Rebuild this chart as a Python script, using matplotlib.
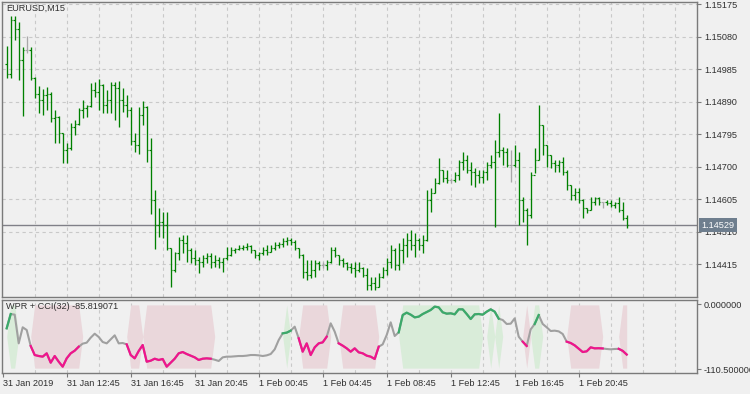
import matplotlib
matplotlib.use("Agg")
import matplotlib.pyplot as plt
import matplotlib.transforms as mtransforms
import numpy as np

plt.rcParams['font.family'] = ['Liberation Sans', 'DejaVu Sans']

symbol_title = "EURUSD,M15"
ind_title = "WPR + CCI(32) -85.819071"

# 15 minute bars, bar 0 = 31 Jan 2019 08:45
bars = np.arange(1, 157)

opens = [
    1.15000, 1.14970, 1.15128, 1.15102, 1.15011, 1.15041, 1.15041, 1.14959, 1.14912, 1.14894,
    1.14909, 1.14912, 1.14842, 1.14845, 1.14798, 1.14748, 1.14754, 1.14815, 1.14824, 1.14865,
    1.14871, 1.14877, 1.14924, 1.14918, 1.14938, 1.14880, 1.14894, 1.14938, 1.14929, 1.14894,
    1.14880, 1.14865, 1.14775, 1.14763, 1.14851, 1.14874, 1.14748, 1.14602, 1.14529, 1.14538,
    1.14529, 1.14462, 1.14397, 1.14447, 1.14485, 1.14476, 1.14456, 1.14433, 1.14427, 1.14421,
    1.14433, 1.14438, 1.14421, 1.14427, 1.14421, 1.14433, 1.14441, 1.14456, 1.14459, 1.14462,
    1.14465, 1.14468, 1.14456, 1.14441, 1.14447, 1.14456, 1.14450, 1.14462, 1.14471, 1.14473,
    1.14482, 1.14485, 1.14479, 1.14462, 1.14441, 1.14392, 1.14383, 1.14397, 1.14418, 1.14412,
    1.14412, 1.14421, 1.14456, 1.14441, 1.14427, 1.14418, 1.14406, 1.14403, 1.14398, 1.14403,
    1.14383, 1.14354, 1.14360, 1.14348, 1.14377, 1.14398, 1.14421, 1.14456, 1.14412, 1.14456,
    1.14471, 1.14485, 1.14471, 1.14485, 1.14471, 1.14485, 1.14602, 1.14623, 1.14652, 1.14690,
    1.14666, 1.14661, 1.14661, 1.14675, 1.14713, 1.14719, 1.14690, 1.14684, 1.14675, 1.14669,
    1.14684, 1.14704, 1.14713, 1.14742, 1.14748, 1.14742, 1.14704, 1.14704, 1.14719, 1.14602,
    1.14573, 1.14558, 1.14675, 1.14719, 1.14821, 1.14763, 1.14734, 1.14710, 1.14704, 1.14713,
    1.14684, 1.14646, 1.14617, 1.14625, 1.14602, 1.14579, 1.14573, 1.14596, 1.14608, 1.14596,
    1.14596, 1.14593, 1.14588, 1.14593, 1.14573, 1.14550,
]
highs = [
    1.15052, 1.15140, 1.15140, 1.15122, 1.15049, 1.15081, 1.15049, 1.14962, 1.14935, 1.14927,
    1.14932, 1.14918, 1.14865, 1.14848, 1.14798, 1.14769, 1.14827, 1.14836, 1.14871, 1.14894,
    1.14880, 1.14944, 1.14947, 1.14956, 1.14941, 1.14924, 1.14947, 1.14947, 1.14950, 1.14929,
    1.14909, 1.14874, 1.14798, 1.14874, 1.14891, 1.14877, 1.14783, 1.14631, 1.14579, 1.14567,
    1.14567, 1.14462, 1.14450, 1.14494, 1.14500, 1.14500, 1.14462, 1.14456, 1.14435, 1.14441,
    1.14447, 1.14447, 1.14441, 1.14435, 1.14433, 1.14465, 1.14465, 1.14462, 1.14471, 1.14471,
    1.14476, 1.14471, 1.14456, 1.14450, 1.14465, 1.14471, 1.14471, 1.14479, 1.14479, 1.14491,
    1.14494, 1.14491, 1.14485, 1.14462, 1.14444, 1.14427, 1.14427, 1.14427, 1.14424, 1.14421,
    1.14427, 1.14465, 1.14465, 1.14441, 1.14433, 1.14421, 1.14418, 1.14421, 1.14421, 1.14406,
    1.14403, 1.14377, 1.14377, 1.14389, 1.14406, 1.14433, 1.14471, 1.14462, 1.14476, 1.14491,
    1.14505, 1.14514, 1.14505, 1.14491, 1.14500, 1.14631, 1.14637, 1.14666, 1.14725, 1.14690,
    1.14690, 1.14666, 1.14684, 1.14719, 1.14742, 1.14734, 1.14713, 1.14696, 1.14690, 1.14690,
    1.14713, 1.14734, 1.14777, 1.14856, 1.14757, 1.14754, 1.14748, 1.14763, 1.14742, 1.14611,
    1.14579, 1.14684, 1.14754, 1.14880, 1.14821, 1.14763, 1.14734, 1.14719, 1.14719, 1.14728,
    1.14690, 1.14646, 1.14637, 1.14637, 1.14605, 1.14579, 1.14611, 1.14611, 1.14611, 1.14596,
    1.14602, 1.14602, 1.14596, 1.14611, 1.14596, 1.14558,
]
lows = [
    1.14959, 1.14959, 1.15070, 1.14953, 1.14848, 1.15032, 1.14953, 1.14900, 1.14856, 1.14851,
    1.14865, 1.14830, 1.14769, 1.14769, 1.14710, 1.14710, 1.14748, 1.14792, 1.14821, 1.14842,
    1.14845, 1.14874, 1.14903, 1.14865, 1.14856, 1.14856, 1.14856, 1.14836, 1.14815, 1.14859,
    1.14845, 1.14763, 1.14742, 1.14737, 1.14821, 1.14713, 1.14561, 1.14459, 1.14494, 1.14491,
    1.14456, 1.14348, 1.14392, 1.14427, 1.14447, 1.14421, 1.14418, 1.14412, 1.14389, 1.14406,
    1.14418, 1.14403, 1.14406, 1.14403, 1.14392, 1.14427, 1.14438, 1.14447, 1.14456, 1.14456,
    1.14456, 1.14447, 1.14433, 1.14427, 1.14441, 1.14441, 1.14450, 1.14456, 1.14462, 1.14465,
    1.14471, 1.14471, 1.14456, 1.14433, 1.14374, 1.14368, 1.14374, 1.14377, 1.14398, 1.14403,
    1.14398, 1.14418, 1.14435, 1.14412, 1.14406, 1.14398, 1.14389, 1.14377, 1.14392, 1.14377,
    1.14339, 1.14339, 1.14339, 1.14348, 1.14374, 1.14383, 1.14403, 1.14398, 1.14398, 1.14418,
    1.14435, 1.14456, 1.14435, 1.14456, 1.14447, 1.14482, 1.14567, 1.14623, 1.14649, 1.14655,
    1.14652, 1.14652, 1.14655, 1.14661, 1.14690, 1.14681, 1.14646, 1.14640, 1.14652, 1.14652,
    1.14661, 1.14696, 1.14523, 1.14728, 1.14704, 1.14699, 1.14655, 1.14699, 1.14529, 1.14538,
    1.14471, 1.14550, 1.14681, 1.14719, 1.14734, 1.14699, 1.14696, 1.14684, 1.14684, 1.14675,
    1.14631, 1.14602, 1.14602, 1.14593, 1.14550, 1.14564, 1.14573, 1.14588, 1.14588, 1.14579,
    1.14588, 1.14582, 1.14579, 1.14567, 1.14544, 1.14520,
]
closes = [
    1.14970, 1.15128, 1.15102, 1.15011, 1.15041, 1.15041, 1.14959, 1.14912, 1.14894, 1.14909,
    1.14912, 1.14842, 1.14845, 1.14798, 1.14748, 1.14754, 1.14815, 1.14824, 1.14865, 1.14871,
    1.14877, 1.14924, 1.14918, 1.14938, 1.14880, 1.14894, 1.14938, 1.14929, 1.14894, 1.14880,
    1.14865, 1.14775, 1.14763, 1.14851, 1.14874, 1.14748, 1.14602, 1.14529, 1.14538, 1.14529,
    1.14462, 1.14397, 1.14447, 1.14485, 1.14476, 1.14456, 1.14433, 1.14427, 1.14421, 1.14433,
    1.14438, 1.14421, 1.14427, 1.14421, 1.14433, 1.14441, 1.14456, 1.14459, 1.14462, 1.14465,
    1.14468, 1.14456, 1.14441, 1.14447, 1.14456, 1.14450, 1.14462, 1.14471, 1.14473, 1.14482,
    1.14485, 1.14479, 1.14462, 1.14441, 1.14392, 1.14383, 1.14397, 1.14418, 1.14412, 1.14412,
    1.14421, 1.14456, 1.14441, 1.14427, 1.14418, 1.14406, 1.14403, 1.14398, 1.14403, 1.14383,
    1.14354, 1.14360, 1.14348, 1.14377, 1.14398, 1.14421, 1.14456, 1.14412, 1.14456, 1.14471,
    1.14485, 1.14471, 1.14485, 1.14471, 1.14485, 1.14602, 1.14623, 1.14652, 1.14690, 1.14666,
    1.14661, 1.14661, 1.14675, 1.14713, 1.14719, 1.14690, 1.14684, 1.14675, 1.14669, 1.14684,
    1.14704, 1.14713, 1.14742, 1.14748, 1.14742, 1.14704, 1.14704, 1.14719, 1.14602, 1.14573,
    1.14558, 1.14675, 1.14719, 1.14821, 1.14763, 1.14734, 1.14710, 1.14704, 1.14713, 1.14684,
    1.14646, 1.14617, 1.14625, 1.14602, 1.14579, 1.14573, 1.14596, 1.14608, 1.14596, 1.14596,
    1.14593, 1.14588, 1.14593, 1.14573, 1.14550, 1.14529,
]
last_price = 1.14529
price_ticks = [1.15175, 1.15080, 1.14985, 1.14890, 1.14795, 1.14700, 1.14605, 1.14510, 1.14415]

wpr_cci = [
    -41.0, -16.6, -17.7, -66.7, -39.3, -43.9, -71.2, -86.6, -88.3, -89.4,
    -83.7, -99.7, -88.3, -98.0, -106.5, -92.3, -83.7, -79.2, -72.4, -67.2,
    -65.5, -57.0, -50.2, -55.8, -64.4, -66.7, -59.8, -53.0, -66.7, -66.1,
    -68.4, -86.6, -92.3, -79.8, -69.5, -98.0, -96.3, -92.9, -95.1, -93.4,
    -106.5, -99.7, -92.9, -83.7, -81.5, -84.9, -87.7, -90.6, -95.1, -92.9,
    -92.3, -92.9, -94.6, -96.8, -90.6, -89.4, -89.4, -88.9, -88.3, -88.3,
    -87.7, -86.6, -86.6, -87.2, -88.3, -87.2, -84.9, -76.9, -61.0, -49.6,
    -48.4, -45.0, -38.2, -58.1, -80.9, -66.7, -86.6, -73.5, -66.7, -65.0,
    -55.3, -32.5, -46.7, -66.7, -70.6, -75.2, -80.9, -75.2, -82.0, -83.7,
    -87.7, -89.4, -93.4, -72.4, -68.4, -52.4, -30.8, -54.1, -47.9, -18.3,
    -14.3, -17.7, -22.3, -21.1, -16.6, -13.2, -9.7, -4.0, -5.2, -13.7,
    -16.0, -15.4, -17.1, -8.6, -8.6, -16.6, -25.1, -17.1, -16.6, -17.7,
    -12.6, -8.6, -12.6, -24.5, -26.8, -33.6, -33.1, -24.0, -55.3, -63.8,
    -71.2, -42.8, -33.6, -18.3, -33.6, -39.3, -45.6, -45.0, -46.2, -50.7,
    -63.8, -66.1, -70.1, -75.8, -81.5, -80.3, -73.5, -75.2, -75.0, -75.4,
    -76.3, -76.9, -76.3, -76.0, -79.5, -85.8,
]
ind_ticks = [0.0, -110.5]
ind_tick_labels = ["0.000000", "-110.500000"]

# colored runs of the indicator line (first bar, last bar)
pink_line_runs = [(7, 19), (31, 52), (74, 81), (84, 94), (130, 131), (141, 150), (154, 156)]
green_line_runs = [(1, 2), (70, 72), (99, 124), (133, 134)]
# bars where the background band is open
pink_band_runs = [(8, 19), (32, 34), (36, 52), (75, 81), (85, 93), (131, 131), (142, 149), (155, 156)]
green_band_runs = [(2, 3), (71, 71), (100, 119), (122, 122), (124, 124), (133, 134)]
band_hi, band_mid, band_lo = -1.0, -55.0, -109.0

time_label_bars = [0, 16, 32, 48, 64, 80, 96, 112, 128, 144]
time_labels = ["31 Jan 2019", "31 Jan 12:45", "31 Jan 16:45", "31 Jan 20:45", "1 Feb 00:45",
               "1 Feb 04:45", "1 Feb 08:45", "1 Feb 12:45", "1 Feb 16:45", "1 Feb 20:45"]
grid_bars = np.arange(8, 174, 8)

bg = '#F0F0F0'
frame = '#7A7A7A'
gridc = '#C9C9C9'
txt = '#303030'
bar_up = '#008000'
bar_doji = '#A8A8A8'

W, H = 750, 394
fig = plt.figure(figsize=(W / 100, H / 100), dpi=100, facecolor=bg)
ax = fig.add_axes([2 / W, 1 - 297 / H, 695 / W, 295 / H], facecolor=bg)
ax2 = fig.add_axes([2 / W, 1 - 372.7 / H, 695 / W, 73.2 / H], facecolor=bg)

xlim = (-0.175, 173.575)
for a in (ax, ax2):
    a.set_xlim(*xlim)
    for s in a.spines.values():
        s.set_color(frame)
        s.set_linewidth(1.0)
    for g in grid_bars:
        a.axvline(g, color=gridc, lw=0.8, ls=(0, (3, 3)), zorder=0)

# price panel
ax.set_ylim(1.14319, 1.15181)
for p in price_ticks:
    ax.axhline(p, color=gridc, lw=0.8, ls=(0, (3, 3)), zorder=0)

o = np.array(opens)
c = np.array(closes)
cols = [bar_doji if oo == cc else bar_up for oo, cc in zip(opens, closes)]
ax.vlines(bars, lows, highs, colors=cols, lw=0.95, zorder=3)
ax.hlines(o, bars - 0.4, bars, colors=cols, lw=0.85, zorder=3)
ax.hlines(c, bars, bars + 0.4, colors=cols, lw=0.85, zorder=3)
ax.axhline(last_price, color='#808088', lw=1.0, zorder=2)

ax.yaxis.tick_right()
ax.set_yticks(price_ticks)
ax.set_yticklabels(["%.5f" % p for p in price_ticks])
ax.tick_params(axis='y', length=3, width=0.8, color=frame, pad=2, labelsize=6.6, labelcolor=txt)
ax.set_xticks([])
trans = mtransforms.blended_transform_factory(ax.transAxes, ax.transData)
ax.text(1 + 4.5 / 695, last_price, "%.5f" % last_price, transform=trans, ha='left', va='center',
        fontsize=6.6, color='white', zorder=5,
        bbox=dict(boxstyle='square,pad=0.25', fc='#6E7E8E', ec='none'))
fig.text(6 / W, 1 - 4 / H, symbol_title, ha='left', va='top', fontsize=6.6, color=txt)

# indicator panel
ax2.set_ylim(-116.8, 8.2)
vals = np.array(wpr_cci)


def band(runs, color):
    top = np.full(len(bars), band_mid)
    bot = np.full(len(bars), band_mid)
    for a, b in runs:
        sel = (bars >= a) & (bars <= b)
        top[sel] = band_hi
        bot[sel] = band_lo
    ax2.fill_between(bars, bot, top, color=color, lw=0, zorder=1)


band(pink_band_runs, '#EAD7DB')
band(green_band_runs, '#D9ECD9')

ax2.plot(bars, vals, color='#A0A0A0', lw=1.5, zorder=3, solid_joinstyle='round')
for runs, color in ((pink_line_runs, '#F0148C'), (green_line_runs, '#3BAA6A')):
    for a, b in runs:
        sel = (bars >= a) & (bars <= b)
        ax2.plot(bars[sel], vals[sel], color=color, lw=1.6, zorder=4, solid_joinstyle='round')

ax2.yaxis.tick_right()
ax2.set_yticks(ind_ticks)
ax2.set_yticklabels(ind_tick_labels)
ax2.tick_params(axis='y', length=3, width=0.8, color=frame, pad=2, labelsize=6.6, labelcolor=txt)
ax2.set_xticks(time_label_bars)
ax2.set_xticklabels(time_labels)
ax2.tick_params(axis='x', length=3, width=0.8, color=frame, pad=1.5, labelsize=6.6, labelcolor=txt)
for lbl in ax2.get_xticklabels():
    lbl.set_ha('left')
fig.text(6 / W, 1 - 302 / H, ind_title, ha='left', va='top', fontsize=6.6, color=txt)

fig.savefig("out.png", dpi=100, facecolor=bg)
